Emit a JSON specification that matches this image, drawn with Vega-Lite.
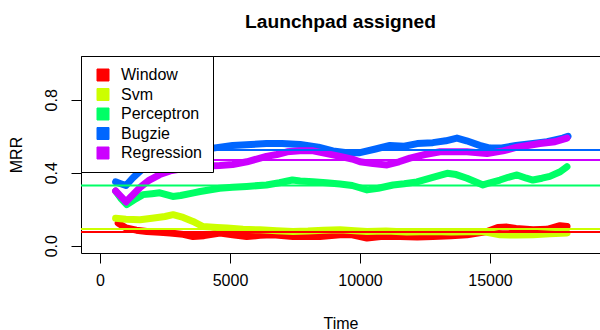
{
  "$schema": "https://vega.github.io/schema/vega-lite/v6.json",
  "width": 519,
  "height": 197,
  "autosize": "none",
  "padding": {"left": 81, "top": 56, "right": 0, "bottom": 77},
  "background": "white",
  "title": {"text": "Launchpad assigned", "fontSize": 19.2, "font": "Liberation Sans", "fontWeight": "bold", "color": "black", "anchor": "middle", "baseline": "alphabetic", "offset": 8},
  "config": {
    "view": {"stroke": "black", "strokeWidth": 1},
    "font": "Liberation Sans",
    "axis": {"grid": false, "domain": false, "tickColor": "black", "tickSize": 10, "labelColor": "black", "labelFontSize": 16, "labelFont": "Liberation Sans", "titleFont": "Liberation Sans", "titleFontSize": 16, "titleFontWeight": "normal", "titleColor": "black"}
  },
  "datasets": {
    "series": [
      {"series": "Window", "t": 700, "v": 0.124}, {"series": "Window", "t": 1000, "v": 0.097}, {"series": "Window", "t": 1400, "v": 0.085}, {"series": "Window", "t": 1800, "v": 0.078}, {"series": "Window", "t": 2300, "v": 0.074}, {"series": "Window", "t": 2700, "v": 0.07}, {"series": "Window", "t": 3200, "v": 0.062}, {"series": "Window", "t": 3577, "v": 0.05}, {"series": "Window", "t": 4000, "v": 0.055}, {"series": "Window", "t": 4615, "v": 0.07}, {"series": "Window", "t": 5100, "v": 0.06}, {"series": "Window", "t": 5642, "v": 0.05}, {"series": "Window", "t": 6150, "v": 0.057}, {"series": "Window", "t": 6654, "v": 0.06}, {"series": "Window", "t": 7423, "v": 0.05}, {"series": "Window", "t": 7900, "v": 0.052}, {"series": "Window", "t": 8462, "v": 0.05}, {"series": "Window", "t": 9231, "v": 0.06}, {"series": "Window", "t": 9700, "v": 0.06}, {"series": "Window", "t": 10269, "v": 0.042}, {"series": "Window", "t": 10800, "v": 0.05}, {"series": "Window", "t": 11538, "v": 0.05}, {"series": "Window", "t": 12200, "v": 0.048}, {"series": "Window", "t": 12808, "v": 0.05}, {"series": "Window", "t": 13500, "v": 0.055}, {"series": "Window", "t": 14115, "v": 0.06}, {"series": "Window", "t": 14885, "v": 0.078}, {"series": "Window", "t": 15300, "v": 0.1}, {"series": "Window", "t": 15654, "v": 0.102}, {"series": "Window", "t": 16000, "v": 0.095}, {"series": "Window", "t": 16654, "v": 0.087}, {"series": "Window", "t": 17200, "v": 0.09}, {"series": "Window", "t": 17692, "v": 0.11}, {"series": "Window", "t": 17962, "v": 0.105},

      {"series": "Svm", "t": 600, "v": 0.15}, {"series": "Svm", "t": 1000, "v": 0.145}, {"series": "Svm", "t": 1540, "v": 0.142}, {"series": "Svm", "t": 2000, "v": 0.15}, {"series": "Svm", "t": 2500, "v": 0.16}, {"series": "Svm", "t": 2810, "v": 0.17}, {"series": "Svm", "t": 3200, "v": 0.155}, {"series": "Svm", "t": 3577, "v": 0.133}, {"series": "Svm", "t": 3962, "v": 0.105}, {"series": "Svm", "t": 4500, "v": 0.1}, {"series": "Svm", "t": 4885, "v": 0.097}, {"series": "Svm", "t": 5500, "v": 0.09}, {"series": "Svm", "t": 6154, "v": 0.087}, {"series": "Svm", "t": 6800, "v": 0.082}, {"series": "Svm", "t": 7423, "v": 0.078}, {"series": "Svm", "t": 8000, "v": 0.08}, {"series": "Svm", "t": 8600, "v": 0.085}, {"series": "Svm", "t": 9231, "v": 0.087}, {"series": "Svm", "t": 9800, "v": 0.082}, {"series": "Svm", "t": 10269, "v": 0.078}, {"series": "Svm", "t": 11000, "v": 0.08}, {"series": "Svm", "t": 11800, "v": 0.075}, {"series": "Svm", "t": 12808, "v": 0.078}, {"series": "Svm", "t": 13500, "v": 0.075}, {"series": "Svm", "t": 14731, "v": 0.078}, {"series": "Svm", "t": 15385, "v": 0.06}, {"series": "Svm", "t": 16000, "v": 0.058}, {"series": "Svm", "t": 16654, "v": 0.06}, {"series": "Svm", "t": 17300, "v": 0.065}, {"series": "Svm", "t": 17962, "v": 0.07},

      {"series": "Perceptron", "t": 600, "v": 0.3}, {"series": "Perceptron", "t": 800, "v": 0.26}, {"series": "Perceptron", "t": 1030, "v": 0.225}, {"series": "Perceptron", "t": 1300, "v": 0.25}, {"series": "Perceptron", "t": 1650, "v": 0.28}, {"series": "Perceptron", "t": 2000, "v": 0.285}, {"series": "Perceptron", "t": 2300, "v": 0.29}, {"series": "Perceptron", "t": 2800, "v": 0.27}, {"series": "Perceptron", "t": 3100, "v": 0.275}, {"series": "Perceptron", "t": 3600, "v": 0.29}, {"series": "Perceptron", "t": 3850, "v": 0.297}, {"series": "Perceptron", "t": 4600, "v": 0.315}, {"series": "Perceptron", "t": 5100, "v": 0.32}, {"series": "Perceptron", "t": 5640, "v": 0.325}, {"series": "Perceptron", "t": 6400, "v": 0.333}, {"series": "Perceptron", "t": 6900, "v": 0.345}, {"series": "Perceptron", "t": 7400, "v": 0.36}, {"series": "Perceptron", "t": 7700, "v": 0.355}, {"series": "Perceptron", "t": 8190, "v": 0.35}, {"series": "Perceptron", "t": 8700, "v": 0.345}, {"series": "Perceptron", "t": 9230, "v": 0.338}, {"series": "Perceptron", "t": 9700, "v": 0.33}, {"series": "Perceptron", "t": 10270, "v": 0.306}, {"series": "Perceptron", "t": 10700, "v": 0.315}, {"series": "Perceptron", "t": 11270, "v": 0.333}, {"series": "Perceptron", "t": 11700, "v": 0.34}, {"series": "Perceptron", "t": 12190, "v": 0.35}, {"series": "Perceptron", "t": 12800, "v": 0.375}, {"series": "Perceptron", "t": 13350, "v": 0.397}, {"series": "Perceptron", "t": 13700, "v": 0.39}, {"series": "Perceptron", "t": 14115, "v": 0.37}, {"series": "Perceptron", "t": 14730, "v": 0.333}, {"series": "Perceptron", "t": 15000, "v": 0.345}, {"series": "Perceptron", "t": 15385, "v": 0.36}, {"series": "Perceptron", "t": 15700, "v": 0.375}, {"series": "Perceptron", "t": 16040, "v": 0.388}, {"series": "Perceptron", "t": 16400, "v": 0.37}, {"series": "Perceptron", "t": 16650, "v": 0.36}, {"series": "Perceptron", "t": 17000, "v": 0.37}, {"series": "Perceptron", "t": 17300, "v": 0.38}, {"series": "Perceptron", "t": 17700, "v": 0.405}, {"series": "Perceptron", "t": 17960, "v": 0.433},

      {"series": "Bugzie", "t": 600, "v": 0.35}, {"series": "Bugzie", "t": 800, "v": 0.34}, {"series": "Bugzie", "t": 1000, "v": 0.33}, {"series": "Bugzie", "t": 1250, "v": 0.37}, {"series": "Bugzie", "t": 1550, "v": 0.41}, {"series": "Bugzie", "t": 1900, "v": 0.45}, {"series": "Bugzie", "t": 2300, "v": 0.49}, {"series": "Bugzie", "t": 2800, "v": 0.505}, {"series": "Bugzie", "t": 3600, "v": 0.525}, {"series": "Bugzie", "t": 4350, "v": 0.535}, {"series": "Bugzie", "t": 5100, "v": 0.55}, {"series": "Bugzie", "t": 5800, "v": 0.555}, {"series": "Bugzie", "t": 6400, "v": 0.56}, {"series": "Bugzie", "t": 7000, "v": 0.56}, {"series": "Bugzie", "t": 7700, "v": 0.555}, {"series": "Bugzie", "t": 8400, "v": 0.54}, {"series": "Bugzie", "t": 8960, "v": 0.52}, {"series": "Bugzie", "t": 9500, "v": 0.51}, {"series": "Bugzie", "t": 10000, "v": 0.51}, {"series": "Bugzie", "t": 10600, "v": 0.53}, {"series": "Bugzie", "t": 11150, "v": 0.55}, {"series": "Bugzie", "t": 11700, "v": 0.545}, {"series": "Bugzie", "t": 12200, "v": 0.56}, {"series": "Bugzie", "t": 12800, "v": 0.565}, {"series": "Bugzie", "t": 13300, "v": 0.575}, {"series": "Bugzie", "t": 13730, "v": 0.59}, {"series": "Bugzie", "t": 14100, "v": 0.575}, {"series": "Bugzie", "t": 14600, "v": 0.55}, {"series": "Bugzie", "t": 15000, "v": 0.535}, {"series": "Bugzie", "t": 15400, "v": 0.535}, {"series": "Bugzie", "t": 16000, "v": 0.55}, {"series": "Bugzie", "t": 16650, "v": 0.56}, {"series": "Bugzie", "t": 17200, "v": 0.57}, {"series": "Bugzie", "t": 17800, "v": 0.59}, {"series": "Bugzie", "t": 18000, "v": 0.6},

      {"series": "Regression", "t": 600, "v": 0.3}, {"series": "Regression", "t": 800, "v": 0.27}, {"series": "Regression", "t": 1000, "v": 0.24}, {"series": "Regression", "t": 1200, "v": 0.27}, {"series": "Regression", "t": 1550, "v": 0.32}, {"series": "Regression", "t": 1900, "v": 0.36}, {"series": "Regression", "t": 2300, "v": 0.39}, {"series": "Regression", "t": 2700, "v": 0.41}, {"series": "Regression", "t": 3100, "v": 0.42}, {"series": "Regression", "t": 3850, "v": 0.435}, {"series": "Regression", "t": 4600, "v": 0.44}, {"series": "Regression", "t": 5100, "v": 0.445}, {"series": "Regression", "t": 5650, "v": 0.46}, {"series": "Regression", "t": 6400, "v": 0.49}, {"series": "Regression", "t": 6800, "v": 0.5}, {"series": "Regression", "t": 7200, "v": 0.515}, {"series": "Regression", "t": 7692, "v": 0.52}, {"series": "Regression", "t": 8200, "v": 0.52}, {"series": "Regression", "t": 8719, "v": 0.505}, {"series": "Regression", "t": 9231, "v": 0.49}, {"series": "Regression", "t": 9700, "v": 0.475}, {"series": "Regression", "t": 10000, "v": 0.46}, {"series": "Regression", "t": 10500, "v": 0.45}, {"series": "Regression", "t": 11040, "v": 0.443}, {"series": "Regression", "t": 11500, "v": 0.46}, {"series": "Regression", "t": 11920, "v": 0.48}, {"series": "Regression", "t": 12500, "v": 0.5}, {"series": "Regression", "t": 13080, "v": 0.515}, {"series": "Regression", "t": 14115, "v": 0.515}, {"series": "Regression", "t": 14885, "v": 0.505}, {"series": "Regression", "t": 15500, "v": 0.52}, {"series": "Regression", "t": 16040, "v": 0.54}, {"series": "Regression", "t": 16920, "v": 0.56}, {"series": "Regression", "t": 17500, "v": 0.57}, {"series": "Regression", "t": 17960, "v": 0.59}
    ],
    "means": [
      {"series": "Window", "m": 0.075},
      {"series": "Svm", "m": 0.091},
      {"series": "Perceptron", "m": 0.33},
      {"series": "Bugzie", "m": 0.525},
      {"series": "Regression", "m": 0.47}
    ]
  },
  "layer": [
    {
      "data": {"name": "series"},
      "mark": {"type": "line", "strokeWidth": 7, "strokeCap": "round", "strokeJoin": "round"},
      "encoding": {
        "x": {"field": "t", "type": "quantitative", "scale": {"domain": [-731, 19231], "nice": false, "zero": false},
              "axis": {"values": [0, 5000, 10000, 15000], "format": "d", "labelPadding": 9, "labelBaseline": "top", "title": "Time", "titleY": 62, "titleBaseline": "top", "titleAnchor": "middle"}},
        "y": {"field": "v", "type": "quantitative", "scale": {"domain": [-0.04, 1.04], "nice": false, "zero": false},
              "axis": {"values": [0, 0.2, 0.4, 0.6, 0.8, 1.0], "labelExpr": "(abs(datum.value) < 0.001 || abs(datum.value - 0.4) < 0.001 || abs(datum.value - 0.8) < 0.001) ? format(datum.value, '.1f') : ''", "labelAngle": 270, "labelAlign": "center", "labelBaseline": "alphabetic", "labelPadding": 15, "labelOverlap": false, "title": "MRR", "titleAngle": 270, "titleBaseline": "alphabetic", "titleAlign": "center", "titleX": -59.5, "titleY": 98.5}},
        "color": {"field": "series", "type": "nominal",
                  "scale": {"domain": ["Window", "Svm", "Perceptron", "Bugzie", "Regression"], "range": ["#FF0000", "#CCFF00", "#00FF66", "#0066FF", "#CC00FF"]},
                  "legend": {"title": null, "orient": "top-left", "offset": 0, "padding": 11, "fillColor": "white", "strokeColor": "black",
                             "symbolType": "square", "symbolSize": 144, "symbolOffset": 3, "labelOffset": 10, "rowPadding": 3.5,
                             "labelFontSize": 16, "labelFont": "Liberation Sans", "labelColor": "black",
                             "encode": {"symbols": {"update": {"fill": {"scale": "color", "field": "value"}, "stroke": {"value": "black"}, "strokeWidth": {"value": 1}, "opacity": {"value": 1}}}}}},
        "order": {"field": "t", "type": "quantitative"}
      }
    },
    {
      "data": {"name": "means"},
      "mark": {"type": "rule", "strokeWidth": 2},
      "encoding": {
        "y": {"field": "m", "type": "quantitative"},
        "color": {"field": "series", "type": "nominal"}
      }
    }
  ]
}
